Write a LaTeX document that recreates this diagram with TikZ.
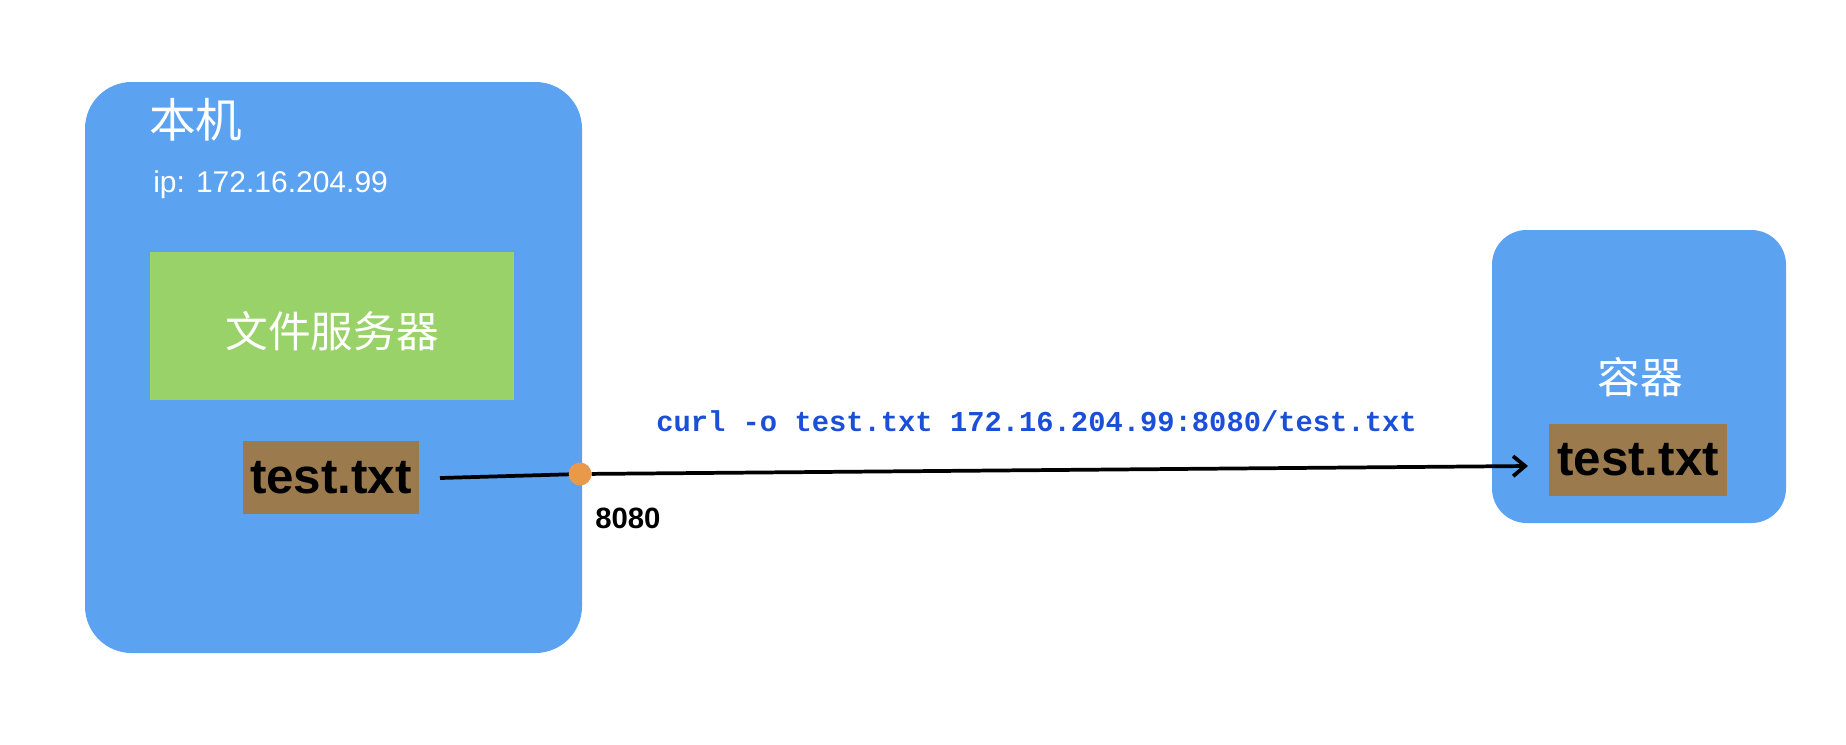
\documentclass[tikz,border=0pt]{standalone}
\usepackage{fontspec}
\setmainfont{Liberation Sans}
\newfontfamily\cjk{Noto Sans CJK SC}
\newfontfamily\monofnt{Liberation Mono}
\usetikzlibrary{arrows.meta}
\definecolor{hostblue}{RGB}{91,162,240}
\definecolor{srvgreen}{RGB}{152,210,104}
\definecolor{filebrown}{RGB}{155,122,78}
\definecolor{portorange}{RGB}{232,153,74}
\definecolor{cmdblue}{RGB}{27,79,216}
\tikzset{
  hostbox/.style={fill=hostblue, draw=none, inner sep=0pt},
  filebox/.style={fill=filebrown, draw=none, inner sep=0pt, font=\fontsize{37}{40}\selectfont\bfseries, text=black},
  cjklabel/.style={text=white, inner sep=0pt, font=\cjk\fontsize{32}{36}\selectfont},
  conn/.style={line width=2.8pt, draw=black},
}
\begin{document}
\begin{tikzpicture}[x=0.75pt, y=-0.75pt]
\useasboundingbox (0,0) rectangle (1846,744);
% host box
\node[hostbox, rounded corners=35pt, minimum width=372.75pt, minimum height=428.25pt] (host) at (333.5,367.5) {};
\node[cjklabel, anchor=west, font=\cjk\fontsize{35}{38}\selectfont] (hostlabel) at (149,120) {本机};
\node[text=white, inner sep=0pt, anchor=west, font=\fontsize{22.5}{26}\selectfont] (ip) at (153,185) {ip: 172.16.204.99};
\node[fill=srvgreen, inner sep=0pt, minimum width=273pt, minimum height=111pt] (server) at (332,326) {};
\node[cjklabel] (serverlabel) at (332,331) {文件服务器};
\node[filebox, minimum width=132pt, minimum height=54.75pt] (hostfile) at (331,477.5) {test.txt};
% container box
\node[hostbox, rounded corners=26pt, minimum width=220.5pt, minimum height=219.75pt] (cont) at (1639,376.5) {};
\node[cjklabel] (contlabel) at (1640,377) {容器};
\node[filebox, minimum width=133.5pt, minimum height=54pt] (contfile) at (1638,460) {test.txt};
% connectors
\coordinate (linestart) at (440,478);
\node[circle, fill=portorange, inner sep=0pt, minimum size=17pt] (port) at (580,474) {};
\coordinate (arrowtip) at (1528,466);
\draw[conn] (linestart) -- (port.center);
\draw[conn, -{Straight Barb[length=9pt, width=15pt, line width=2.8pt]}] (port) -- (arrowtip);
\node[circle, fill=portorange, inner sep=0pt, minimum size=17pt] at (port) {};
\node[anchor=west, inner sep=0pt, font=\fontsize{22}{26}\selectfont\bfseries] (portlabel) at (595,518) {8080};
\node[anchor=west, inner sep=0pt, text=cmdblue, font=\monofnt\fontsize{21.6}{26}\selectfont\bfseries] (cmd) at (656,421) {curl -o test.txt 172.16.204.99:8080/test.txt};
\end{tikzpicture}
\end{document}
